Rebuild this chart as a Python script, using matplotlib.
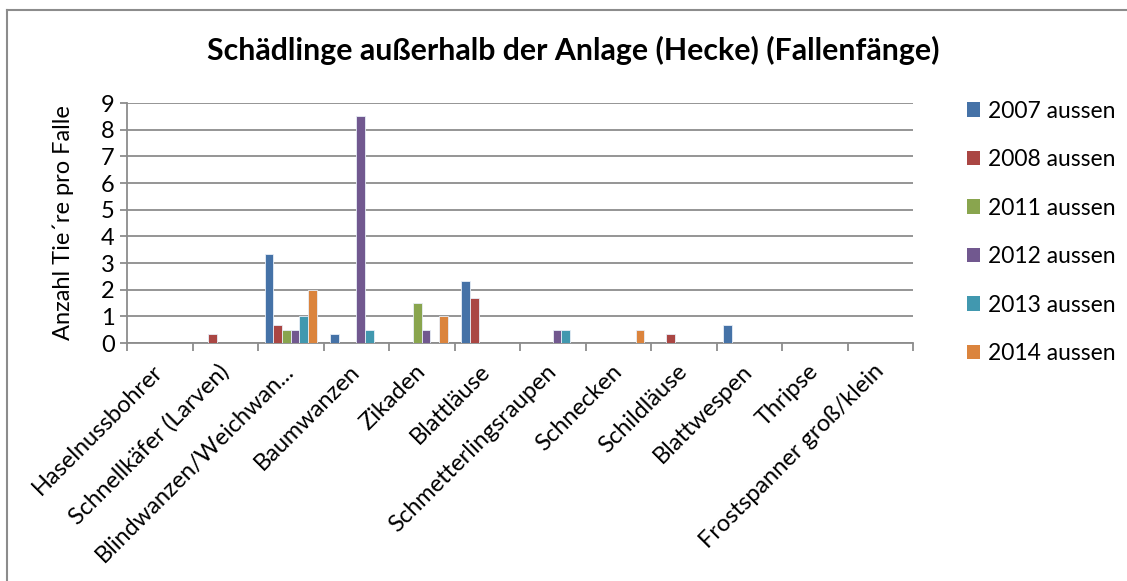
import matplotlib.pyplot as plt
import numpy as np
from matplotlib.lines import Line2D

plt.rcParams['font.family'] = ['Lato', 'DejaVu Sans']

# Kategorien (x-Achse)
kategorien = ['Haselnussbohrer', 'Schnellkäfer (Larven)', 'Blindwanzen/Weichwan...',
              'Baumwanzen', 'Zikaden', 'Blattläuse', 'Schmetterlingsraupen',
              'Schnecken', 'Schildläuse', 'Blattwespen', 'Thripse',
              'Frostspanner groß/klein']

# Tiere pro Falle je Jahr
werte_2007 = [0, 0, 3.33, 0.33, 0, 2.33, 0, 0, 0, 0.67, 0, 0]
werte_2008 = [0, 0.33, 0.67, 0, 0, 1.67, 0, 0, 0.33, 0, 0, 0]
werte_2011 = [0, 0, 0.5, 0, 1.5, 0, 0, 0, 0, 0, 0, 0]
werte_2012 = [0, 0, 0.5, 8.5, 0.5, 0, 0.5, 0, 0, 0, 0, 0]
werte_2013 = [0, 0, 1.0, 0.5, 0, 0, 0.5, 0, 0, 0, 0, 0]
werte_2014 = [0, 0, 2.0, 0, 1.0, 0, 0, 0.5, 0, 0, 0, 0]

serien = ['2007 aussen', '2008 aussen', '2011 aussen',
          '2012 aussen', '2013 aussen', '2014 aussen']
farben = ['#4572A7', '#AA4643', '#89A54E', '#71588F', '#4198AF', '#DB843D']
alle_werte = [werte_2007, werte_2008, werte_2011, werte_2012, werte_2013, werte_2014]

fig = plt.figure(figsize=(11.27, 5.81), dpi=100)
ax = fig.add_axes([127 / 1127, 1 - 343 / 581, (913 - 127) / 1127, (343 - 103) / 581])

n = len(kategorien)
x = np.arange(n)
breite = 0.132
start = -3 * breite
for i, (name, werte, farbe) in enumerate(zip(serien, alle_werte, farben)):
    werte = np.array(werte)
    idx = np.nonzero(werte)[0]
    ax.bar(x[idx] + start + (i + 0.5) * breite, werte[idx], breite,
           color=farbe, edgecolor='#e8eef7', linewidth=0.6, zorder=3)
    # Platzhalter fuer die Legende
    ax.bar([0], [0], 0, color=farbe, label=name)

ax.set_xlim(-0.5, n - 0.5)
ax.set_ylim(0, 9)
ax.set_yticks(range(0, 10))
ax.yaxis.grid(True, color='#8c8c8c', linewidth=1.3, zorder=0)
ax.set_axisbelow(True)

for s in ['top', 'right']:
    ax.spines[s].set_visible(False)
for s in ['left', 'bottom']:
    ax.spines[s].set_color('#8c8c8c')
    ax.spines[s].set_linewidth(1.3)

ax.tick_params(axis='y', length=5, width=1.3, color='#8c8c8c', labelsize=17, pad=4)
ax.set_xticks(x)
ax.set_xticklabels(kategorien, rotation=45, ha='right', va='center',
                   rotation_mode='anchor', fontsize=17)
ax.tick_params(axis='x', which='major', length=0, pad=18)
ax.set_xticks(np.arange(-0.5, n), minor=True)
ax.tick_params(axis='x', which='minor', length=6, width=1.3, color='#8c8c8c')

ax.set_ylabel('Anzahl Tie´re pro Falle', fontsize=17, labelpad=19)

fig.text(0.509, 1 - 50 / 581, 'Schädlinge außerhalb der Anlage (Hecke) (Fallenfänge)',
         ha='center', va='center', fontsize=21.8, fontweight='bold')

fig.legend(loc='upper left', bbox_to_anchor=(946 / 1127, 1 - 80 / 581),
           frameon=False, fontsize=16.5, handlelength=0.6, handleheight=0.6,
           handletextpad=0.35, labelspacing=1.2)

# Rahmen um das Diagramm (nur links und oben sichtbar)
rand_x = 7 / 1127
rand_y = 1 - 10 / 581
fig.lines.append(Line2D([rand_x, rand_x], [0, rand_y], transform=fig.transFigure,
                        color='#8c8c8c', linewidth=1.5))
fig.lines.append(Line2D([rand_x, 1], [rand_y, rand_y], transform=fig.transFigure,
                        color='#8c8c8c', linewidth=1.5))

fig.savefig('out.png', dpi=100, facecolor='white')
